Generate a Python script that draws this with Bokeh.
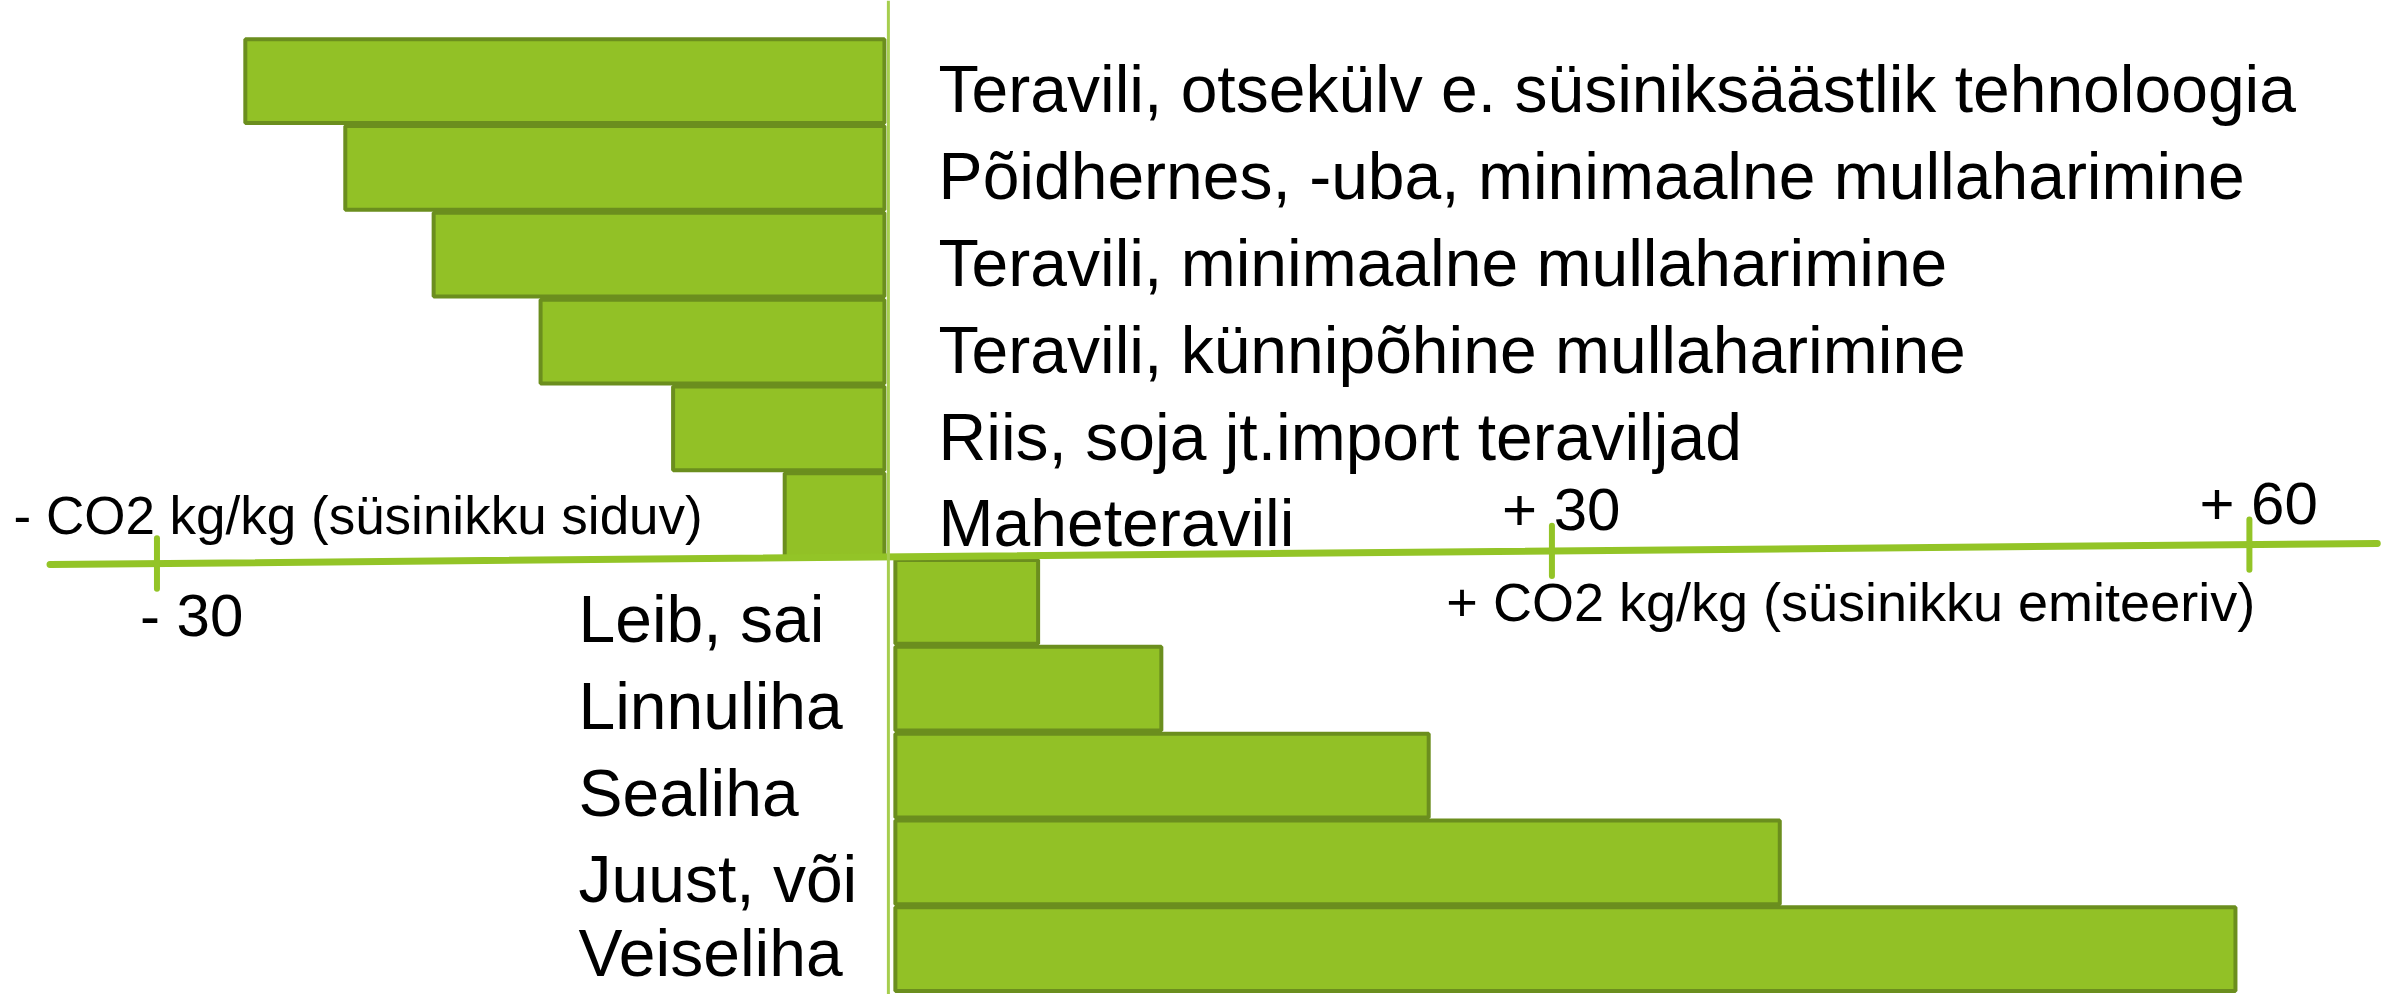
from bokeh.plotting import figure
from bokeh.models import Range1d, ColumnDataSource, Span
from bokeh.core.properties import value
from bokeh.embed import file_html
from bokeh.resources import INLINE

# ---------------- data ----------------
sink_labels = [
    "Teravili, otsekülv e. süsiniksäästlik  tehnoloogia",
    "Põidhernes, -uba, minimaalne mullaharimine",
    "Teravili, minimaalne mullaharimine",
    "Teravili, künnipõhine mullaharimine",
    "Riis, soja jt.import teraviljad",
    "Maheteravili",
]
sink_values = [-26.2, -21.9, -18.1, -13.5, -7.8, -3.0]

emit_labels = ["Leib, sai", "Linnuliha", "Sealiha", "Juust, või", "Veiseliha"]
emit_values = [7.9, 13.2, 24.7, 39.8, 59.4]

tick_values = [-30, 30, 60]
tick_labels = ["- 30", "+ 30", "+ 60"]

title_neg = "- CO2 kg/kg (süsinikku siduv)"
title_pos = "+ CO2 kg/kg (süsinikku emiteeriv)"

# ---------------- style / layout ----------------
FONT = value("Liberation Sans")
FILL = "#92C126"
EDGE = "#6B8E1E"
AXIS_COLOR = "#93C427"
DIVIDER_COLOR = "#A6CE4E"
DIVIDER = 1.46          # position of the vertical divider on the value scale
GAP = 0.17
AX_L, AX_R = -34.6, 65.5
AX_Y0, AX_TILT = -0.069, 0.00242
TXT = 0.234             # baseline correction for text glyphs
Y_LO, Y_HI = -5.023, 6.429
LABEL_FLOOR = -4.54     # keep the lowest label inside the picture


def axis_y(x):
    return AX_Y0 + AX_TILT * (x - AX_L)


n_sink = len(sink_values)
sink_y = [n_sink - i - 0.5 for i in range(n_sink)]
emit_y = [-(j + 0.5) for j in range(len(emit_values))]

p = figure(width=2387, height=994,
           x_range=Range1d(-36.73, 65.94), y_range=Range1d(Y_LO, Y_HI),
           output_backend="svg", toolbar_location=None,
           x_axis_location=None, y_axis_location=None, min_border=0)
p.grid.visible = False
p.outline_line_color = None
p.background_fill_color = "white"

sink_src = ColumnDataSource(dict(y=sink_y, left=sink_values,
                                 right=[DIVIDER - GAP] * n_sink,
                                 label=sink_labels,
                                 ly=[y - 0.33 + TXT for y in sink_y]))
emit_src = ColumnDataSource(dict(y=emit_y, left=[DIVIDER + 0.3] * len(emit_values),
                                 right=emit_values, label=emit_labels,
                                 ly=[max(y - 0.43 + TXT, LABEL_FLOOR) for y in emit_y]))

p.hbar(y="y", left="left", right="right", height=0.965, source=sink_src,
       fill_color=FILL, line_color=EDGE, line_width=4)
p.hbar(y="y", left="left", right="right", height=0.965, source=emit_src,
       fill_color=FILL, line_color=EDGE, line_width=4)

p.add_layout(Span(location=DIVIDER, dimension="height",
                  line_color=DIVIDER_COLOR, line_width=3))

# axis line with ticks
p.line(x=[AX_L, AX_R], y=[axis_y(AX_L), axis_y(AX_R)],
       line_color=AXIS_COLOR, line_width=7, line_cap="round")
p.segment(x0=tick_values, x1=tick_values,
          y0=[axis_y(t) - 0.29 for t in tick_values],
          y1=[axis_y(t) + 0.29 for t in tick_values],
          line_color=AXIS_COLOR, line_width=6, line_cap="round")

tick_src = ColumnDataSource(dict(
    x=tick_values, label=tick_labels,
    y=[axis_y(t) + (-0.83 if t < 0 else 0.24) + TXT for t in tick_values],
    xo=[-17 if t < 0 else -50 for t in tick_values]))
p.text(x="x", y="y", text="label", x_offset="xo", source=tick_src,
       text_font=FONT, text_font_size="60px", text_color="black",
       text_align="left", text_baseline="alphabetic")

# category labels
p.text(x=3.62, y="ly", text="label", source=sink_src,
       text_font=FONT, text_font_size="66px", text_color="black",
       text_align="left", text_baseline="alphabetic")
p.text(x=-11.87, y="ly", text="label", source=emit_src,
       text_font=FONT, text_font_size="66px", text_color="black",
       text_align="left", text_baseline="alphabetic")

# axis titles
p.text(x=[-36.17], y=[0.265 + TXT], text=[title_neg],
       text_font=FONT, text_font_size="53px", text_color="black",
       text_align="left", text_baseline="alphabetic")
p.text(x=[25.46], y=[-0.737 + TXT], text=[title_pos],
       text_font=FONT, text_font_size="54px", text_color="black",
       text_align="left", text_baseline="alphabetic")

open("out.html", "w").write(file_html(p, INLINE))
